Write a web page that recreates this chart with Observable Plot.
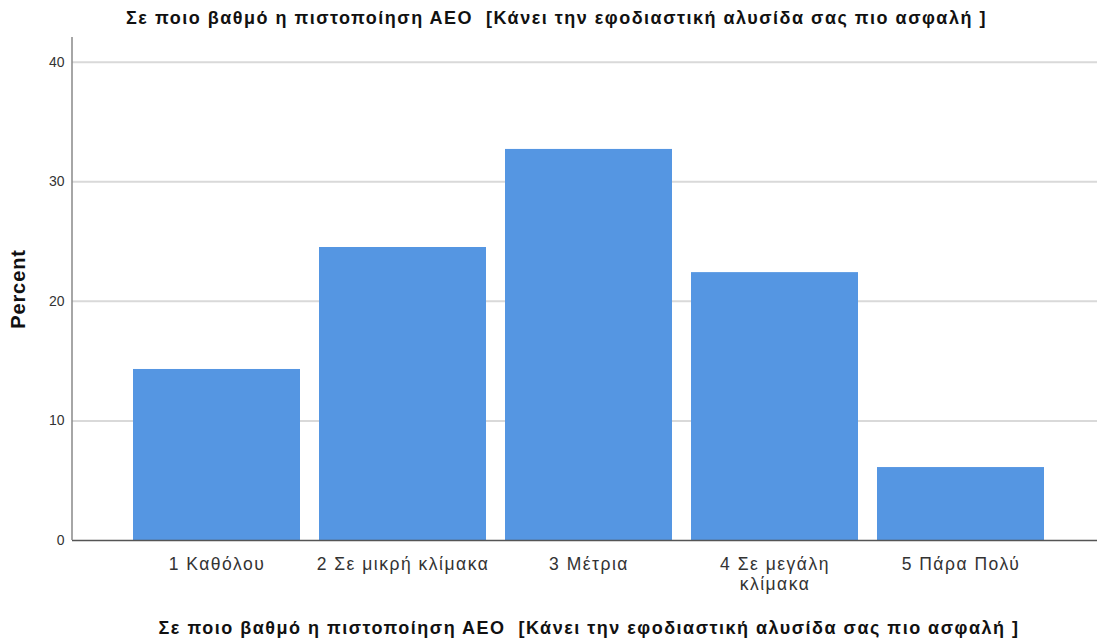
<!DOCTYPE html>
<html>
<head>
<meta charset="utf-8">
<script src="https://cdn.jsdelivr.net/npm/d3@7"></script>
<script src="https://cdn.jsdelivr.net/npm/@observablehq/plot@0.6"></script>
<style>
  html, body { margin: 0; padding: 0; background: #fff; }
  body { width: 1099px; height: 639px; overflow: hidden; font-family: "Liberation Sans", Arial, sans-serif; }
  #title { height: 33px; line-height: 37px; overflow: visible; text-align: center; font-weight: bold; font-size: 18px; letter-spacing: 1.5px; color: #111; white-space: pre; padding-left: 14px; position: relative; z-index: 2; }
  #chart svg text { white-space: pre; }
  #chart svg g[aria-label="x-axis tick label"] text { letter-spacing: 1.5px; }
  #chart svg g.xlab text { letter-spacing: 1.5px; }
  #chart svg g.ylab text { letter-spacing: 0.9px; }
</style>
</head>
<body>
<div id="title"></div>
<div id="chart"></div>
<script>
const titleText = "Σε ποιο βαθμό η πιστοποίηση ΑΕΟ  [Κάνει την εφοδιαστική αλυσίδα σας πιο ασφαλή ]";
const categories = ["1 Καθόλου", "2 Σε μικρή κλίμακα", "3 Μέτρια", "4 Σε μεγάλη κλίμακα", "5 Πάρα Πολύ"];
const percents = [14.3, 24.5, 32.7, 22.4, 6.1];
const yTicks = [0, 10, 20, 30, 40];
const gridValues = [10, 20, 30, 40];
const yLabel = "Percent";
const xLabel = titleText;

document.getElementById("title").textContent = titleText;

const data = categories.map((c, i) => ({category: c, percent: percents[i]}));

const wrapLabel = d => d === "4 Σε μεγάλη κλίμακα" ? "4 Σε μεγάλη\nκλίμακα" : d;

const plot = Plot.plot({
  width: 1099,
  height: 606,
  marginLeft: 72,
  marginRight: 2,
  marginTop: 4,
  marginBottom: 99,
  style: {fontFamily: "Liberation Sans, Arial, sans-serif", background: "#fff", overflow: "visible"},
  x: {type: "band", domain: categories, paddingInner: 0.102, paddingOuter: 0.30, align: 0.535, label: null},
  y: {domain: [0, 42.06], label: null},
  marks: [
    Plot.ruleY(gridValues, {stroke: "#d9d9d9", strokeWidth: 2}),
    Plot.barY(data, {x: "category", y: "percent", fill: "#5596e2"}),
    Plot.ruleY([0], {stroke: "#555", strokeWidth: 1.5}),
    Plot.axisY({ticks: yTicks, tickSize: 0, tickPadding: 8, fontSize: 14, fill: "#333", label: null}),
    Plot.axisX({tickSize: 0, tickPadding: 15, fontSize: 17.5, lineHeight: 1.15, fill: "#333", tickFormat: wrapLabel, label: null}),
    Plot.text([xLabel], {frameAnchor: "bottom", dy: 88, dx: 4, fontSize: 18, fontWeight: "bold", fill: "#111", lineAnchor: "middle", className: "xlab"}),
    Plot.text([yLabel], {frameAnchor: "left", dx: -54, rotate: -90, fontSize: 20, fontWeight: "bold", fill: "#111", textAnchor: "middle", lineAnchor: "middle", className: "ylab"})
  ]
});

document.getElementById("chart").appendChild(plot);

// left axis line positioned from the plot's own scales
const xr = plot.scale("x").range;
const yr = plot.scale("y").range;
d3.select(plot).append("line")
  .attr("x1", xr[0]).attr("x2", xr[0])
  .attr("y1", yr[0]).attr("y2", yr[1])
  .attr("stroke", "#888").attr("stroke-width", 1.5);
</script>
</body>
</html>
